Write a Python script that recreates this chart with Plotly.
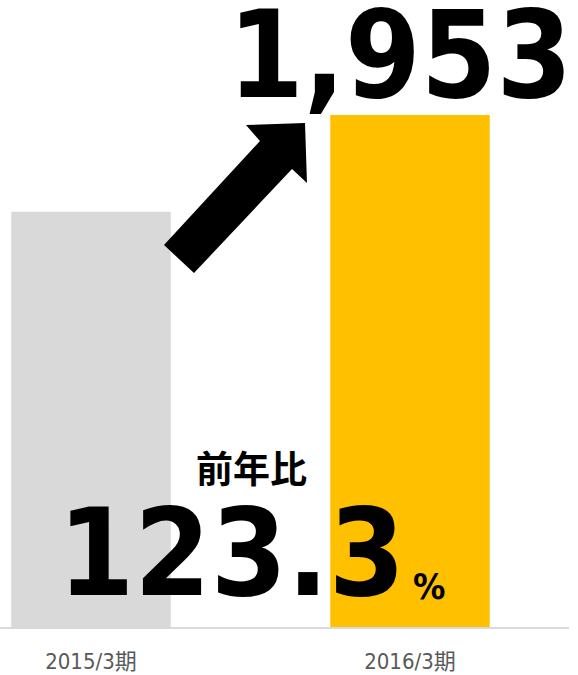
import plotly.graph_objects as go

categories = ["2015/3期", "2016/3期"]
values = [1584, 1953]
colors = ["#D9D9D9", "#FFC000"]
ratio_label = "前年比"

W, H = 578, 675
PLOT_RIGHT = 569   # px
PLOT_BOTTOM = 627  # px
CAT0_PX, CAT_PITCH = 91, 319

ratio = values[1] / values[0] * 100

def px(x):
    return x / PLOT_RIGHT

def py(y):
    return 1 - y / PLOT_BOTTOM

fig = go.Figure()
fig.add_trace(go.Bar(
    x=[0, 1], y=values, marker=dict(color=colors, line=dict(width=0)),
    width=0.5, hoverinfo="skip",
))

# block arrow (decoration), pixel coordinates converted to paper
arrow_px = [(164, 245), (260, 141), (246, 125), (305, 123), (307, 183), (292, 169), (194, 273)]
path = "M " + " L ".join(f"{px(a):.5f},{py(b):.5f}" for a, b in arrow_px) + " Z"
fig.add_shape(type="path", path=path, xref="paper", yref="paper",
              fillcolor="black", line=dict(width=0), layer="above")

num_font = "DejaVu Sans Condensed, DejaVu Sans"
cjk_font = "Noto Sans CJK JP"
fig.add_annotation(x=px(400), y=py(55), xref="paper", yref="paper",
                   text=f"{values[1]:,}", showarrow=False,
                   font=dict(family=num_font, size=121, color="black", weight="bold"),
                   xanchor="center", yanchor="middle")
fig.add_annotation(x=px(231), y=py(553), xref="paper", yref="paper",
                   text=f"{ratio:.1f}", showarrow=False,
                   font=dict(family=num_font, size=122, color="black", weight="bold"),
                   xanchor="center", yanchor="middle")
fig.add_annotation(x=px(429), y=py(586), xref="paper", yref="paper",
                   text="%", showarrow=False,
                   font=dict(family=num_font, size=36, color="black", weight="bold"),
                   xanchor="center", yanchor="middle")
fig.add_annotation(x=px(251), y=py(467), xref="paper", yref="paper",
                   text=ratio_label, showarrow=False,
                   font=dict(family=cjk_font, size=37, color="black", weight="bold"),
                   xanchor="center", yanchor="middle")

fig.update_layout(
    width=W, height=H,
    margin=dict(l=0, r=W - PLOT_RIGHT, t=0, b=H - PLOT_BOTTOM, pad=0),
    plot_bgcolor="white", paper_bgcolor="white",
    showlegend=False,
    xaxis=dict(range=[-CAT0_PX / CAT_PITCH, (PLOT_RIGHT - CAT0_PX) / CAT_PITCH],
               tickmode="array", tickvals=[0, 1], ticktext=categories,
               showgrid=False, zeroline=False, showline=True,
               linecolor="#D9D9D9", linewidth=2,
               tickfont=dict(family="DejaVu Sans Condensed, Noto Sans CJK JP", size=22, color="#595959"),
               ticks="", ticklabelstandoff=14),
    yaxis=dict(range=[0, PLOT_BOTTOM / (512 / values[1])], visible=False, fixedrange=True),
)

fig.write_html("out.html", config={"displayModeBar": False},
               post_script="document.body.style.margin='0';")
